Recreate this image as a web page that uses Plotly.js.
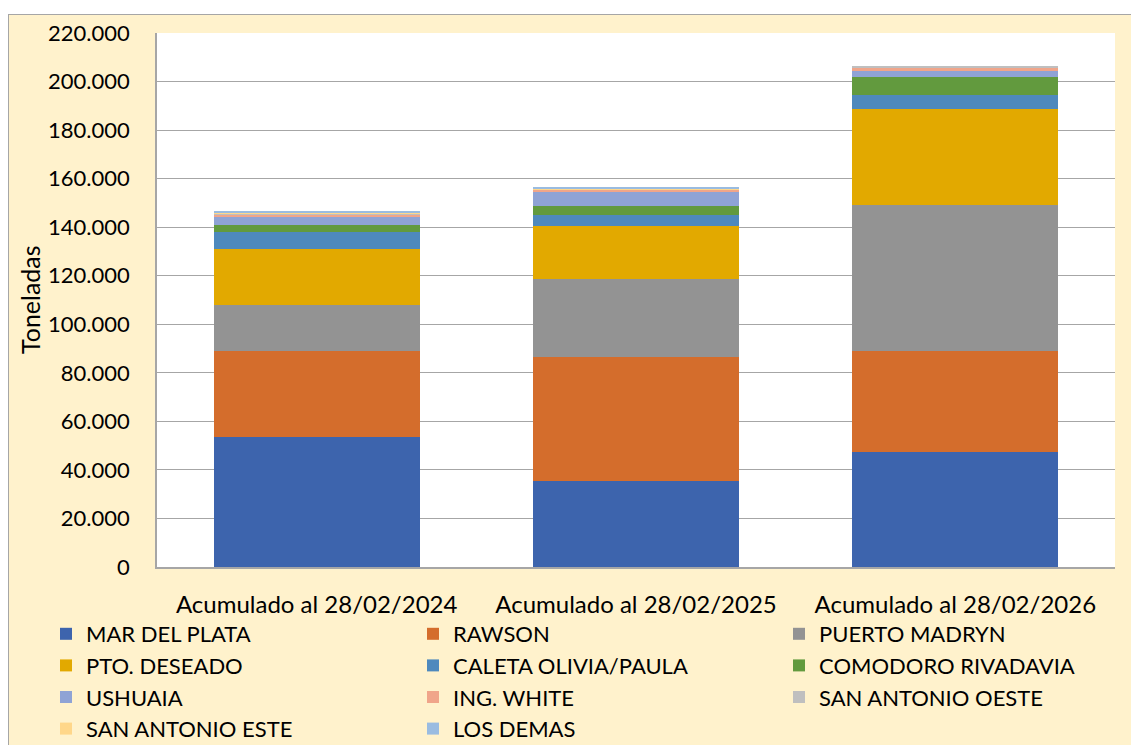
<!DOCTYPE html>
<html>
<head>
<meta charset="utf-8">
<script src="https://cdn.plot.ly/plotly-3.0.1.min.js"></script>
<style>
  html, body { margin: 0; padding: 0; background: #ffffff; overflow: hidden; }
  #chart { position: absolute; left: 8px; top: 14px; width: 1123px; height: 731px;
           border-left: 1px solid #A6A6A6; border-top: 1px solid #A6A6A6; }
</style>
</head>
<body>
<div id="chart"></div>
<script>
const categories = ["Acumulado al 28/02/2024", "Acumulado al 28/02/2025", "Acumulado al 28/02/2026"];

const marDelPlata     = [53600, 35400, 47400];
const rawson          = [35400, 51100, 41600];
const puertoMadryn    = [19000, 32200, 60200];
const ptoDeseado      = [23000, 21800, 39600];
const caletaOlivia    = [7000, 4700, 5500];
const comodoroRiv     = [2700, 3700, 7500];
const ushuaia         = [3400, 5500, 2700];
const ingWhite        = [1100, 1200, 1100];
const sanAntonioOeste = [400, 100, 800];
const sanAntonioEste  = [500, 100, 0];
const losDemas        = [400, 400, 0];

const seriesNames = ["MAR DEL PLATA", "RAWSON", "PUERTO MADRYN", "PTO. DESEADO",
  "CALETA OLIVIA/PAULA", "COMODORO RIVADAVIA", "USHUAIA", "ING. WHITE",
  "SAN ANTONIO OESTE", "SAN ANTONIO ESTE", "LOS DEMAS"];
const seriesValues = [marDelPlata, rawson, puertoMadryn, ptoDeseado, caletaOlivia,
  comodoroRiv, ushuaia, ingWhite, sanAntonioOeste, sanAntonioEste, losDemas];
const colors = ["#3D64AD", "#D46D2C", "#939393", "#E2A900", "#4E89BD", "#629A3E",
  "#8FA3D5", "#F0A58A", "#BFBFBF", "#FFD78A", "#9ABCE1"];
const legendFor = ["legend", "legend2", "legend3", "legend", "legend2", "legend3",
  "legend", "legend2", "legend3", "legend", "legend2"];

const traces = seriesNames.map((n, i) => ({
  type: "bar",
  name: n,
  x: categories,
  y: seriesValues[i],
  marker: { color: colors[i], line: { width: 0 } },
  legend: legendFor[i],
  legendgroup: "g" + i,
  hoverinfo: "name+y"
}));

const font = { family: "Lato, 'Open Sans', sans-serif", color: "#000000" };
const W = 1123;
const legBase = {
  orientation: "v",
  xref: "container", yref: "container",
  yanchor: "top", xanchor: "left",
  y: 1 - (613 - 15) / 731,
  bgcolor: "rgba(0,0,0,0)",
  font: Object.assign({}, font, { size: 22 }),
  tracegroupgap: 0,
  itemwidth: 30,
  traceorder: "grouped"
};

const layout = {
  width: W, height: 731,
  margin: { l: 148, r: 17, t: 18, b: 179, autoexpand: false },
  paper_bgcolor: "#FFF2CC",
  plot_bgcolor: "#FFFFFF",
  separators: ",.",
  barmode: "stack",
  bargap: 0.355,
  font: Object.assign({}, font, { size: 22 }),
  xaxis: {
    type: "category",
    automargin: false,
    tickangle: 0,
    showline: true, linecolor: "#A6A6A6", linewidth: 1.5,
    ticks: "", ticklabelstandoff: 15,
    tickfont: Object.assign({}, font, { size: 24 })
  },
  yaxis: {
    automargin: false,
    range: [0, 220000],
    dtick: 20000,
    tickformat: ",.0f",
    showline: true, linecolor: "#A6A6A6", linewidth: 1.5,
    gridcolor: "#A6A6A6", gridwidth: 1,
    zeroline: false,
    ticks: "", ticklabelstandoff: 21,
    tickfont: Object.assign({}, font, { size: 22 })
  },
  showlegend: true,
  legend: Object.assign({}, legBase, { x: 37 / W }),
  legend2: Object.assign({}, legBase, { x: 404 / W }),
  legend3: Object.assign({}, legBase, { x: 770 / W }),
  annotations: [{
    text: "Toneladas",
    xref: "paper", yref: "paper",
    x: (30 - 157) / 958, y: 0.5,
    xanchor: "center", yanchor: "middle",
    textangle: -90, showarrow: false,
    font: Object.assign({}, font, { size: 25 })
  }]
};

Plotly.newPlot("chart", traces, layout, { displayModeBar: false, responsive: false });
</script>
</body>
</html>
